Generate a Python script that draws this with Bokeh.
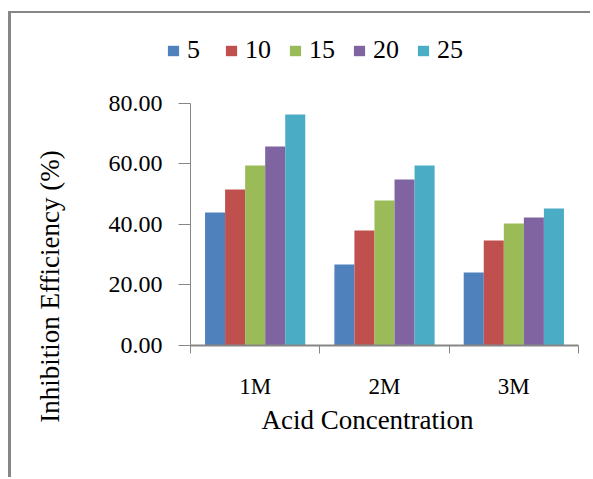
import numpy as np
from bokeh.plotting import figure
from bokeh.models import Range1d, FixedTicker, NumeralTickFormatter, Label
from bokeh.embed import file_html
from bokeh.resources import INLINE

# Inhibition efficiency (%) by acid concentration and inhibitor amount
concentrations = ["1M", "2M", "3M"]
series = ["5", "10", "15", "20", "25"]
eff_5 = [44.0, 26.8, 24.1]
eff_10 = [51.6, 38.0, 34.7]
eff_15 = [59.5, 47.9, 40.3]
eff_20 = [65.8, 54.9, 42.3]
eff_25 = [76.4, 59.5, 45.3]
y_ticks = [0, 20, 40, 60, 80]

values = [eff_5, eff_10, eff_15, eff_20, eff_25]
colors = ["#4F81BD", "#C0504D", "#9BBB59", "#8064A2", "#4BACC6"]
FONT = "Liberation Serif"
GRAY = "#868686"

W, H = 582, 466
# the data frame fills the canvas; axes sit at x=0 / y=0 and are bounded
p = figure(width=W, height=H, output_backend="svg", toolbar_location=None,
           x_range=Range1d(-1.384, 3.116), y_range=Range1d(-44.3, 109.75),
           min_border_left=0, min_border_right=0,
           min_border_top=0, min_border_bottom=0)
p.styles = {"border-top": f"2px solid {GRAY}", "border-left": f"3px solid {GRAY}",
            "margin-left": "8px", "margin-top": "11px"}
p.outline_line_color = None
p.xgrid.visible = False
p.ygrid.visible = False
p.background_fill_color = "white"
p.border_fill_color = "white"

bar_w = 0.155
centers = np.arange(len(concentrations)) + 0.5
for j, (name, vals, col) in enumerate(zip(series, values, colors)):
    xs = centers + (j - (len(series) - 1) / 2) * bar_w
    p.vbar(x=xs, top=vals, width=bar_w, fill_color=col, line_color=None,
           legend_label=name)

# x axis: labels at group centres, tick marks at group boundaries
xa = p.xaxis[0]
xa.fixed_location = 0
xa.bounds = (0, len(concentrations))
xa.ticker = FixedTicker(ticks=list(centers),
                        minor_ticks=list(range(len(concentrations) + 1)))
xa.major_label_overrides = {float(c): lab for c, lab in zip(centers, concentrations)}
xa.major_tick_in = 0
xa.major_tick_out = 0
xa.minor_tick_in = 0
xa.minor_tick_out = 8
xa.minor_tick_line_color = GRAY
xa.axis_line_color = GRAY
xa.axis_line_width = 2
xa.major_label_standoff = 21
xa.major_label_text_font = FONT
xa.major_label_text_font_size = "23px"
xa.major_label_text_color = "black"

ya = p.yaxis[0]
ya.fixed_location = 0
ya.bounds = (0, 80)
ya.ticker = FixedTicker(ticks=y_ticks)
ya.formatter = NumeralTickFormatter(format="0.00")
ya.major_tick_in = 0
ya.major_tick_out = 12
ya.minor_tick_line_color = None
ya.major_tick_line_color = GRAY
ya.axis_line_color = GRAY
ya.major_label_standoff = 16
ya.major_label_text_font = FONT
ya.major_label_text_font_size = "24px"
ya.major_label_text_color = "black"

# axis titles
p.add_layout(Label(x=38.5, y=193, x_units="screen", y_units="screen",
                   text="Inhibition Efficiency (%)", angle=np.pi / 2,
                   text_align="center", text_baseline="middle",
                   text_font=FONT, text_font_size="27px", text_color="black"))
p.add_layout(Label(x=356, y=60, x_units="screen", y_units="screen",
                   text="Acid Concentration",
                   text_align="center", text_baseline="middle",
                   text_font=FONT, text_font_size="27px", text_color="black"))

lg = p.legend[0]
lg.location = (155, 414)
lg.orientation = "horizontal"
lg.border_line_color = None
lg.background_fill_alpha = 0
lg.padding = 0
lg.margin = 0
lg.spacing = 17
lg.glyph_width = 14
lg.glyph_height = 13
lg.label_standoff = 7
lg.label_text_font = "Liberation Serif, serif"
lg.label_text_font_size = "26px"
lg.label_text_color = "black"

open("out.html", "w").write(file_html(p, INLINE))
